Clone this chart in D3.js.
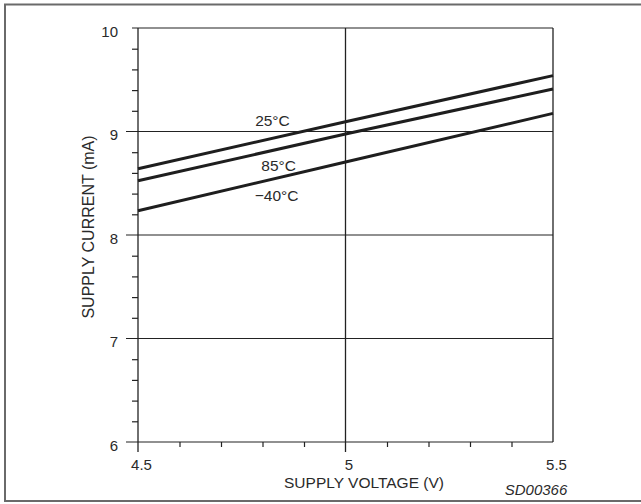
<!DOCTYPE html>
<html><head><meta charset="utf-8">
<script src="https://cdn.jsdelivr.net/npm/d3@7"></script>
<style>html,body{margin:0;padding:0;background:#fff;}svg{display:block;}</style>
</head><body>
<svg id="c" width="641" height="504"></svg>
<script>
const voltages = [4.5, 5.0, 5.5];
const seriesNames = ["25°C", "85°C", "−40°C"];
const current25 = [8.64, 9.095, 9.54];
const current85 = [8.525, 8.975, 9.41];
const currentM40 = [8.235, 8.705, 9.175];
const xTickLabels = ["4.5", "5", "5.5"];
const yTickLabels = ["6", "7", "8", "9", "10"];
const labelPos = [[4.824, 9.056], [4.839, 8.618], [4.834, 8.328]];

const svg = d3.select("#c");
const font = "Liberation Sans, Arial, Helvetica, sans-serif";
const L = 138, R = 553, T = 28, B = 442;
const x = d3.scaleLinear().domain([4.5, 5.5]).range([L, R]);
const y = d3.scaleLinear().domain([6, 10]).range([B, T]);

// outer frame
svg.append("rect").attr("x", 5).attr("y", 4.5).attr("width", 700).attr("height", 496.5)
  .attr("fill", "none").attr("stroke", "#6a6a6a").attr("stroke-width", 2);

const g = svg.append("g");
// horizontal grid lines (extending outside as major ticks)
yTickLabels.map(Number).forEach(v => {
  g.append("line").attr("x1", v === 10 ? L - 6 : L - 12).attr("x2", R)
    .attr("y1", y(v)).attr("y2", y(v)).attr("stroke", "#222").attr("stroke-width", 1.2);
});
// vertical grid lines
xTickLabels.map(Number).forEach(v => {
  g.append("line").attr("x1", x(v)).attr("x2", x(v))
    .attr("y1", T).attr("y2", v === 5.5 ? B : B + 10).attr("stroke", "#222").attr("stroke-width", 1.3);
});
// minor ticks
const yMinor = d3.range(6, 10.001, 0.2).filter(v => Math.abs(v - Math.round(v)) > 0.01);
g.append("g").attr("transform", `translate(${L},0)`)
  .call(d3.axisLeft(y).tickValues(yMinor).tickSize(6).tickFormat(""))
  .call(s => { s.select(".domain").remove(); s.selectAll("line").attr("stroke", "#222").attr("stroke-width", 1.2); });
const xMinor = d3.range(4.5, 5.5001, 0.1).filter(v => Math.abs(v - 5) > 0.01 && Math.abs(v - 4.5) > 0.01 && Math.abs(v - 5.5) > 0.01);
g.append("g").attr("transform", `translate(0,${B})`)
  .call(d3.axisBottom(x).tickValues(xMinor).tickSize(5).tickFormat(""))
  .call(s => { s.select(".domain").remove(); s.selectAll("line").attr("stroke", "#222").attr("stroke-width", 1.2); });

// tick labels
yTickLabels.forEach(t => {
  svg.append("text").attr("x", 118).attr("y", y(+t) + 8.5).attr("text-anchor", "end")
    .attr("font-family", font).attr("font-size", 15).attr("fill", "#2a2a2a").text(t);
});
xTickLabels.forEach(t => {
  svg.append("text").attr("x", x(+t) + 3.5).attr("y", 469.5).attr("text-anchor", "middle")
    .attr("font-family", font).attr("font-size", 15).attr("fill", "#2a2a2a").text(t);
});

// axis titles
svg.append("text").attr("x", 364).attr("y", 487.5).attr("text-anchor", "middle")
  .attr("font-family", font).attr("font-size", 15.5).attr("fill", "#2a2a2a").text("SUPPLY VOLTAGE (V)");
svg.append("text").attr("transform", "translate(94,227) rotate(-90)").attr("text-anchor", "middle")
  .attr("font-family", font).attr("font-size", 16).attr("fill", "#2a2a2a").text("SUPPLY CURRENT (mA)");
svg.append("text").attr("x", 536).attr("y", 494.5).attr("text-anchor", "middle")
  .attr("font-family", font).attr("font-size", 15).attr("font-style", "italic").attr("fill", "#2a2a2a").text("SD00366");

// series lines
const line = d3.line().x((d, i) => x(voltages[i])).y(d => y(d));
[current25, current85, currentM40].forEach(s => {
  svg.append("path").attr("d", line(s)).attr("fill", "none").attr("stroke", "#1e1e1e").attr("stroke-width", 3);
});
// series labels
seriesNames.forEach((n, i) => {
  svg.append("text").attr("x", x(labelPos[i][0])).attr("y", y(labelPos[i][1]))
    .attr("text-anchor", "middle").attr("font-family", font).attr("font-size", 15.5)
    .attr("fill", "#2a2a2a").text(n);
});
</script>
</body></html>
